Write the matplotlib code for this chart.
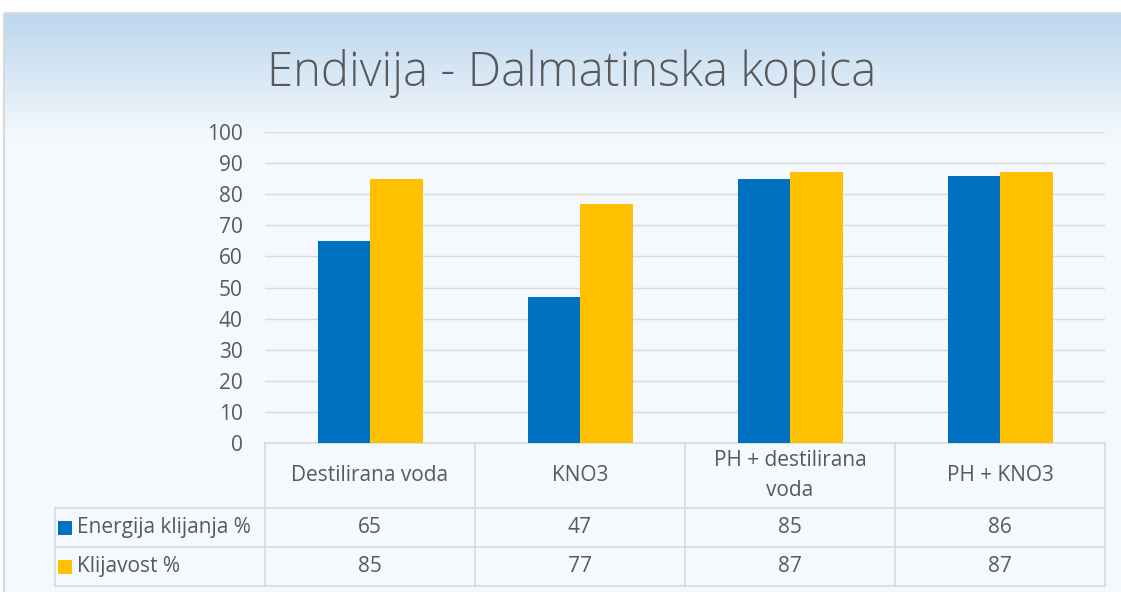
import numpy as np
import matplotlib
matplotlib.use("Agg")
import matplotlib.pyplot as plt
from matplotlib.patches import Rectangle
from matplotlib.transforms import blended_transform_factory

categories = ["Destilirana voda", "KNO3", "PH + destilirana\nvoda", "PH + KNO3"]
series_names = ["Energija klijanja %", "Klijavost %"]
energija = [65, 47, 85, 86]
klijavost = [85, 77, 87, 87]
yticks = [0, 10, 20, 30, 40, 50, 60, 70, 80, 90, 100]
title = "Endivija - Dalmatinska kopica"

colors = ["#0070C0", "#FFC000"]
text_col = "#595959"
grid_col = "#D9D9D9"
fs = 15

W, H = 1121, 592
fig = plt.figure(figsize=(W / 100, H / 100), dpi=100)
plt.rcParams['font.family'] = ['Open Sans', 'DejaVu Sans']

# background gradient inside chart frame
bg = fig.add_axes([0, 0, 1, 1], zorder=-10)
bg.set_xlim(0, W)
bg.set_ylim(H, 0)
bg.axis('off')
top = np.array([0xBD, 0xD7, 0xEE]) / 255
bot = np.array([0xF5, 0xF9, 0xFD]) / 255
n = 200
t = np.linspace(0, 1, n)[:, None]
grad = top * (1 - t) + bot * t
grad = np.tile(grad[:, None, :], (1, 2, 1))
bg.imshow(grad, extent=[4, W + 5, 140, 13], aspect='auto', interpolation='bilinear')
bg.add_patch(Rectangle((4, 140), W, H, facecolor='#F5F9FD', edgecolor='none'))
bg.add_patch(Rectangle((4, 13), W + 10, H + 10, facecolor='none', edgecolor='#D9D9D9', lw=1.5))

ax = fig.add_axes([265 / W, (H - 443) / H, 840 / W, 311 / H])
ax.set_facecolor('none')
x = np.arange(len(categories))
bw = 0.25
ax.bar(x - bw / 2, energija, bw, color=colors[0], zorder=3)
ax.bar(x + bw / 2, klijavost, bw, color=colors[1], zorder=3)
ax.set_xlim(-0.5, len(categories) - 0.5)
ax.set_ylim(0, 100)
ax.set_yticks(yticks)
ax.yaxis.grid(True, color=grid_col, lw=1)
ax.set_axisbelow(True)
for s in ax.spines.values():
    s.set_visible(False)
ax.tick_params(axis='y', length=0, labelsize=fs, colors=text_col, pad=16)
ax.set_xticks([])

# data table
tr = blended_transform_factory(ax.transData, ax.transAxes)
ph = 311.0
h_bot = -65 / ph
r1_bot = -104 / ph
r2_bot = -143 / ph
lkw = dict(color=grid_col, lw=1.2, transform=tr, clip_on=False)
xl = -0.5 - 1.0
xr = len(categories) - 0.5
ax.plot([-0.5, xr], [0, 0], **lkw)
for yy in [h_bot, r1_bot, r2_bot]:
    ax.plot([xl, xr], [yy, yy], **lkw)
for i in range(len(categories) + 1):
    ax.plot([i - 0.5, i - 0.5], [0, r2_bot], **lkw)
ax.plot([xl, xl], [h_bot, r2_bot], **lkw)

tkw = dict(transform=tr, ha='center', va='center', fontsize=fs, color=text_col, clip_on=False)
for i, c in enumerate(categories):
    ax.text(i, h_bot / 2, c, linespacing=1.5, **tkw)
rows = [energija, klijavost]
for r, (name, vals) in enumerate(zip(series_names, rows)):
    ytop = h_bot if r == 0 else r1_bot
    ybot = r1_bot if r == 0 else r2_bot
    yc = (ytop + ybot) / 2
    for i, v in enumerate(vals):
        ax.text(i, yc, str(v), **tkw)
    sq = Rectangle((58 / W, (H - (508 + 39 * r + 19.5)) / H - 7 / H), 14 / W, 14 / H,
                   facecolor=colors[r], edgecolor='none', transform=fig.transFigure, figure=fig)
    fig.patches.append(sq)
    ax.text(xl + 22 / 210, yc, name, transform=tr, ha='left', va='center', fontsize=fs,
            color=text_col, clip_on=False)

fig.text(572 / W, (H - 73) / H, title, ha='center', va='center', fontsize=34,
         color=text_col, fontweight='light')

fig.savefig("out.png", dpi=100)
